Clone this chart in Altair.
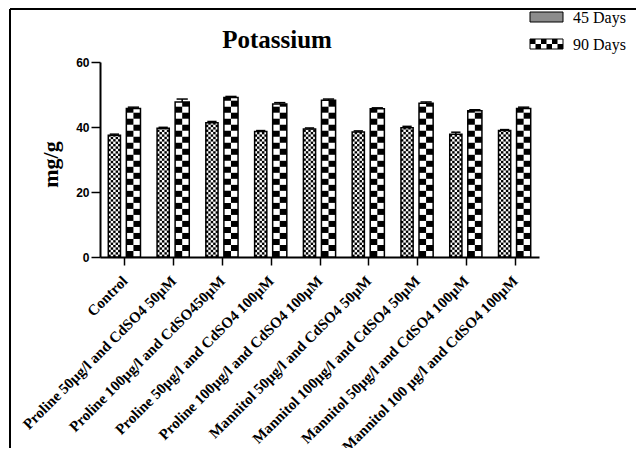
import json
import altair as alt
import pandas as pd

categories = [
    "Control",
    "Proline 50µg/l and CdSO4 50µM",
    "Proline 100µg/l and CdSO450µM",
    "Proline 50µg/l and CdSO4 100µM",
    "Proline 100µg/l and CdSO4 100µM",
    "Mannitol 50µg/l and CdSO4 50µM",
    "Mannitol 100µg/l and CdSO4 50µM",
    "Mannitol 50µg/l and CdSO4 100µM",
    "Mannitol 100 µg/l and CdSO4 100µM",
]
days45 = [37.5, 39.6, 41.3, 38.6, 39.4, 38.5, 39.8, 37.8, 38.9]
days90 = [45.7, 47.7, 49.1, 47.1, 48.2, 45.6, 47.3, 45.0, 45.7]
err45 = [0.3, 0.3, 0.4, 0.3, 0.3, 0.3, 0.4, 0.6, 0.3]
err90 = [0.4, 0.9, 0.3, 0.4, 0.4, 0.3, 0.4, 0.3, 0.4]
series_names = ["45 Days", "90 Days"]
y_ticks = [0, 20, 40, 60]

# layout (not data)
offsets = {"45 Days": (-0.33, -0.08), "90 Days": (0.04, 0.33)}
pattern = {"45 Days": (5, 0.74), "90 Days": (2, 1.85)}  # columns, row height (data units)

rows = []
cells = []
for i, c in enumerate(categories):
    for s, vals, errs in (("45 Days", days45, err45), ("90 Days", days90, err90)):
        v = vals[i]
        e = errs[i]
        a, b = offsets[s]
        x0, x1 = i + a, i + b
        rows.append(dict(cat=c, series=s, x0=x0, x1=x1, val=v, zero=0.0,
                         top=v + e, xm=(x0 + x1) / 2,
                         c0=x0 + 0.03, c1=x1 - 0.03))
        ncol, h = pattern[s]
        w = (x1 - x0) / ncol
        r = 0
        while r * h < v:
            for k in range(ncol):
                if (r + k) % 2 == 0:
                    cells.append(dict(xa=x0 + k * w, xb=x0 + (k + 1) * w,
                                      ya=r * h, yb=min((r + 1) * h, v)))
            r += 1

bars = pd.DataFrame(rows)
cells_df = pd.DataFrame(cells)

xs = alt.Scale(domain=[-0.5, 8.5], nice=False, zero=False)
ys = alt.Scale(domain=[0, 60], nice=False, zero=True)

label_expr = json.dumps(categories, ensure_ascii=False) + "[datum.value]"

xaxis = alt.Axis(values=list(range(len(categories))), labelExpr=label_expr, title=None,
                 grid=False, labelAngle=-45, labelAlign="right", labelBaseline="middle",
                 labelFont="Liberation Serif", labelFontSize=15, labelFontWeight="bold",
                 labelLimit=500, labelOverlap=False, labelFlush=False, labelBound=False,
                 labelPadding=13, tickSize=8, tickWidth=1.5, domainWidth=2)
yaxis = alt.Axis(values=y_ticks, title="mg/g", grid=False,
                 labelFont="Liberation Sans", labelFontSize=12, labelFontWeight="bold",
                 labelPadding=2, tickSize=9, tickWidth=1.5, domainWidth=2,
                 titleFont="Liberation Serif", titleFontSize=22, titleFontWeight="bold",
                 titleAngle=-90, titleX=-43, titleY=102, titleAlign="center",
                 titleBaseline="alphabetic")

base_rect = alt.Chart(bars).mark_rect(fill="white").encode(
    x=alt.X("x0:Q", scale=xs, axis=xaxis),
    x2="x1:Q",
    y=alt.Y("val:Q", scale=ys, axis=yaxis),
    y2="zero:Q",
)
cell_layer = alt.Chart(cells_df).mark_rect(fill="black").encode(
    x=alt.X("xa:Q", scale=xs), x2="xb:Q",
    y=alt.Y("ya:Q", scale=ys), y2="yb:Q",
)
outline = alt.Chart(bars).mark_rect(fillOpacity=0, stroke="black", strokeWidth=1.5).encode(
    x=alt.X("x0:Q", scale=xs), x2="x1:Q",
    y=alt.Y("val:Q", scale=ys), y2="zero:Q",
)
err_rule = alt.Chart(bars).mark_rule(color="black", strokeWidth=1.5).encode(
    x=alt.X("xm:Q", scale=xs), y=alt.Y("val:Q", scale=ys), y2="top:Q",
)
err_cap = alt.Chart(bars).mark_rule(color="black", strokeWidth=1.5).encode(
    x=alt.X("c0:Q", scale=xs), x2="c1:Q", y=alt.Y("top:Q", scale=ys),
)

one = pd.DataFrame({"a": [0]})

def vrect(x0, x1, y0, y1, **kw):
    return alt.Chart(one).mark_rect(**kw).encode(
        x=alt.value(x0), x2=alt.value(x1), y=alt.value(y0), y2=alt.value(y1))

def vrule(x0, x1, y0, y1, **kw):
    return alt.Chart(one).mark_rule(**kw).encode(
        x=alt.value(x0), x2=alt.value(x1), y=alt.value(y0), y2=alt.value(y1))

deco = []
# outer frame
deco.append(vrule(-90, -90, -53, 420, color="black", strokeWidth=2))
deco.append(vrule(-90, 560, -53, -53, color="black", strokeWidth=2))
# title
deco.append(alt.Chart(one).mark_text(text="Potassium", font="Liberation Serif", fontSize=25,
                                      fontWeight="bold", align="center", baseline="alphabetic",
                                      color="black").encode(x=alt.value(177), y=alt.value(-14)))
# legend swatches
sw_x0, sw_x1 = 430, 463
leg_y = {"45 Days": (-50, -40), "90 Days": (-23, -13)}
deco.append(vrect(sw_x0, sw_x1, *leg_y["45 Days"], fill="#8c8c8c", stroke="black", strokeWidth=1))
ya, yb = leg_y["90 Days"]
deco.append(vrect(sw_x0, sw_x1, ya, yb, fill="white", stroke="black", strokeWidth=1))
cw = (sw_x1 - sw_x0) / 6
for rr in range(2):
    for k in range(6):
        if (rr + k) % 2 == 0:
            deco.append(vrect(sw_x0 + k * cw, sw_x0 + (k + 1) * cw,
                              ya + rr * 5, ya + (rr + 1) * 5, fill="black"))
for s, yy in (("45 Days", -39), ("90 Days", -12)):
    deco.append(alt.Chart(one).mark_text(text=s, font="Liberation Serif", fontSize=16,
                                         align="left", baseline="alphabetic", color="black")
                .encode(x=alt.value(473), y=alt.value(yy)))

chart = alt.layer(base_rect, cell_layer, outline, err_rule, err_cap, *deco).properties(
    width=439, height=195, autosize="none",
    padding={"left": 92, "top": 54, "right": 97, "bottom": 191},
).configure_view(stroke=None).configure_axis(
    domainColor="black", tickColor="black", labelColor="black", titleColor="black"
)

chart.save("out.html", embed_options={"renderer": "svg", "actions": False})
